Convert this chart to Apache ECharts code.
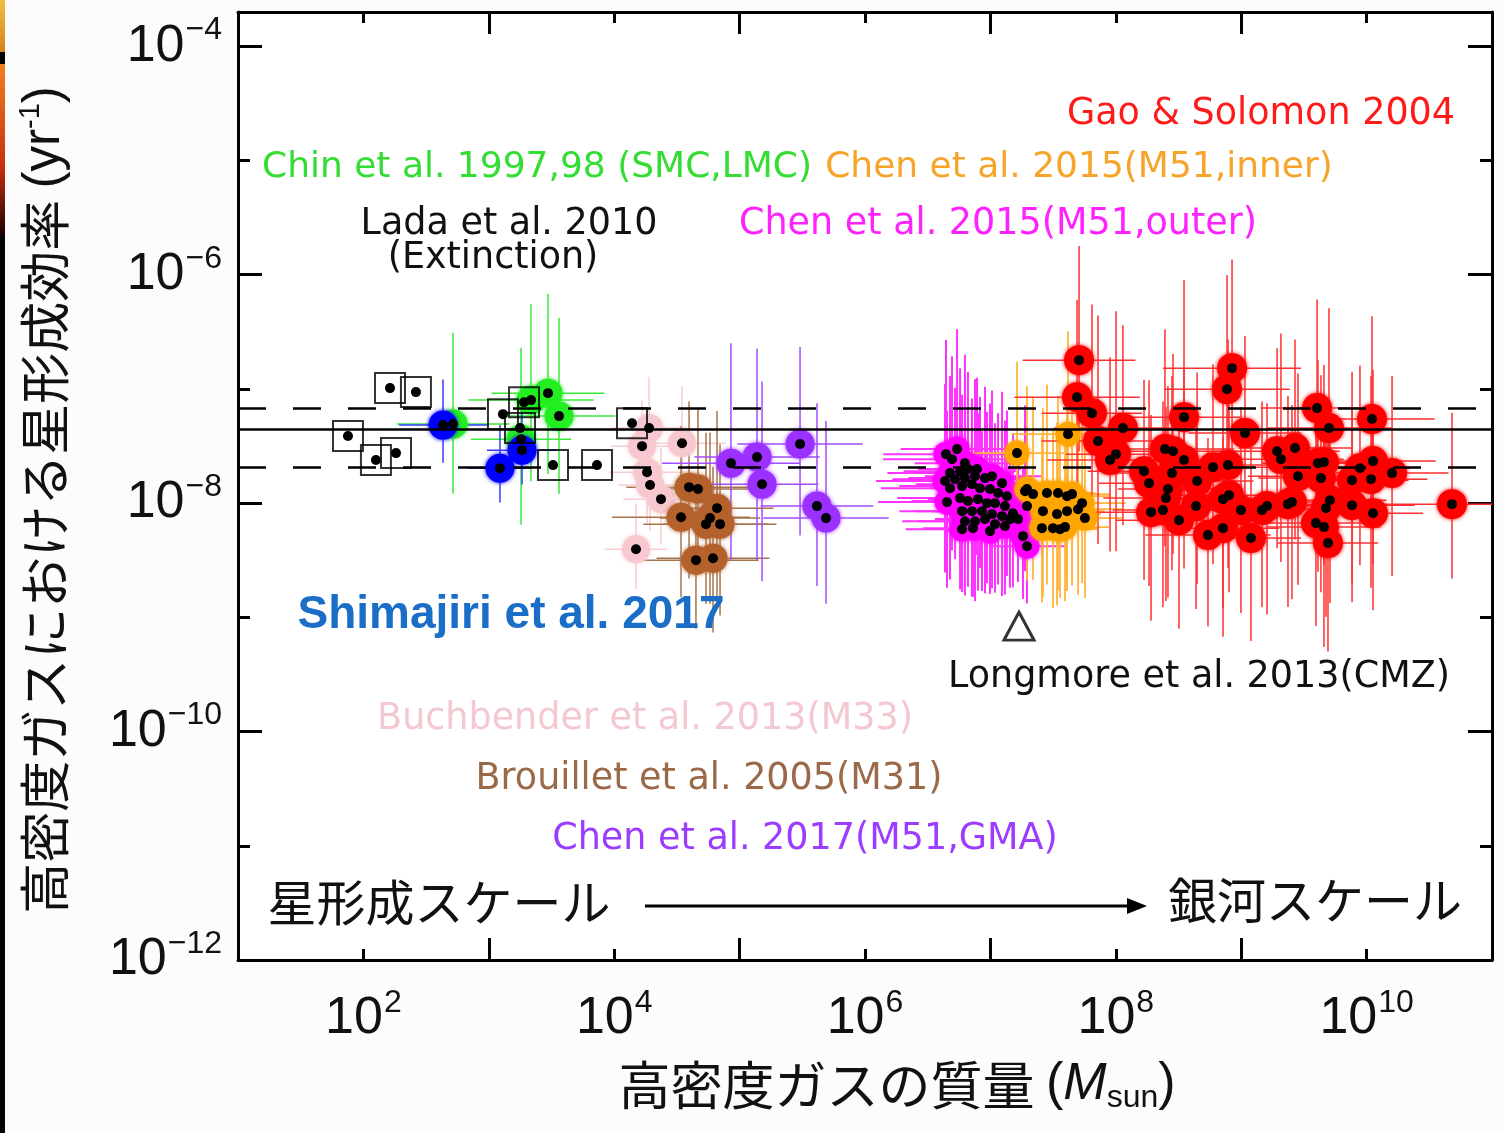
<!DOCTYPE html>
<html><head><meta charset="utf-8">
<script src="https://cdn.jsdelivr.net/npm/echarts@6/dist/echarts.min.js"></script>
<style>html,body{margin:0;padding:0;background:#fcfcfc}#c{width:1504px;height:1133px}</style>
</head><body><div id="c"></div>
<script>
// All values are log10: x = log10(dense gas mass / Msun), y = log10(SFE per yr)
const xTickExponents = [2, 4, 6, 8, 10];
const yTickExponents = [-12, -10, -8, -6, -4];

const sfeMeanLog = -7.352;
const sfeBandLog = [-7.168, -7.694];

// Lada et al. 2010 (open squares)
const ladaPts = [[2.212,-6.993],[2.419,-7.028],[1.877,-7.413],[2.100,-7.623],[2.260,-7.562],[3.113,-7.221],[3.281,-7.116],[3.249,-7.343],[3.512,-7.667],[3.863,-7.667],[4.142,-7.300]];

// Chin et al. 1997,98 (green)
const chinPts = [[2.715,-7.308],[3.257,-7.440],[3.337,-7.098],[3.472,-7.037],[3.560,-7.238]];
const chinErr = [[0.45,0.80,0.61],[0.40,0.80,0.75],[0.50,0.84,0.71],[0.45,0.87,0.71],[0.45,0.86,0.68]];

// Shimajiri et al. 2017 (blue)
const shimaPts = [[2.635,-7.317],[3.089,-7.694],[3.265,-7.536]];
const shimaErr = [[0.35,0.40,0.33],[0.25,0.38,0.30],[0.28,0.35,0.30]];

// Buchbender et al. 2013 (pink)
const buchPts = [[4.278,-7.343],[4.222,-7.501],[4.541,-7.475],[4.262,-7.729],[4.286,-7.842],[4.373,-7.965],[4.174,-8.403]];
const buchErr = [[0.30,0.45,0.40],[0.25,0.40,0.45],[0.35,0.50,0.40],[0.30,0.45,0.45],[0.25,0.40,0.40],[0.30,0.45,0.40],[0.25,0.40,0.35]];

// Brouillet et al. 2005 (brown)
const brouPts = [[4.597,-7.860],[4.668,-7.877],[4.533,-8.123],[4.820,-8.044],[4.764,-8.131],[4.732,-8.184],[4.844,-8.184],[4.652,-8.499],[4.788,-8.482]];
const brouErr = [[0.50,0.75,0.80],[0.45,0.70,0.75],[0.55,0.80,0.70],[0.45,0.85,0.80],[0.40,0.75,0.75],[0.50,0.80,0.70],[0.45,0.70,0.80],[0.50,0.75,0.60],[0.45,0.80,0.65]];

// Chen et al. 2017 (M51, GMA) (purple)
const gmaPts = [[4.931,-7.650],[5.139,-7.597],[5.179,-7.834],[5.482,-7.483],[5.617,-8.026],[5.689,-8.131]];
const gmaErr = [[0.55,1.05,0.85],[0.50,0.95,0.90],[0.45,0.90,0.85],[0.50,0.85,0.80],[0.45,0.90,0.70],[0.50,0.85,0.75]];

// Chen et al. 2015 (M51, outer) (magenta)
const outerPts = [[6.646,-7.571],[6.734,-7.527],[6.694,-7.615],[6.797,-7.650],[6.678,-7.737],[6.758,-7.720],[6.821,-7.702],[6.893,-7.702],[6.638,-7.807],[6.718,-7.790],
[6.797,-7.781],[6.877,-7.764],[6.957,-7.781],[7.013,-7.764],[7.093,-7.825],[6.678,-7.869],[6.774,-7.851],[6.853,-7.834],[6.917,-7.869],[6.997,-7.877],
[7.061,-7.912],[7.132,-7.939],[6.654,-7.991],[6.758,-7.956],[6.821,-7.982],[6.901,-7.965],[6.973,-8.000],[7.037,-8.000],[7.116,-8.026],[7.180,-8.088],
[6.774,-8.070],[6.853,-8.070],[6.933,-8.070],[7.013,-8.096],[7.093,-8.114],[7.156,-8.140],[6.797,-8.158],[6.877,-8.158],[6.957,-8.140],[7.037,-8.184],
[7.116,-8.201],[7.220,-8.140],[6.774,-8.228],[6.861,-8.219],[6.997,-8.245],[7.260,-8.289],[7.292,-8.377],[7.276,-7.895],[7.292,-8.026]];
const outerErr = [[0.50,1.00,0.80],[0.45,1.05,0.75],[0.55,0.90,0.80],[0.40,0.95,0.85],[0.50,0.85,0.75],[0.45,0.90,0.80],[0.40,0.85,0.70],[0.35,0.80,0.75],[0.55,0.85,0.80],[0.50,0.80,0.70],
[0.45,0.90,0.75],[0.40,0.85,0.80],[0.35,0.80,0.75],[0.40,0.75,0.70],[0.35,0.80,0.75],[0.55,0.85,0.80],[0.50,0.80,0.75],[0.45,0.75,0.80],[0.40,0.80,0.70],[0.35,0.75,0.75],
[0.40,0.70,0.80],[0.35,0.75,0.70],[0.55,0.80,0.75],[0.50,0.85,0.80],[0.45,0.80,0.75],[0.40,0.75,0.80],[0.35,0.80,0.70],[0.40,0.70,0.75],[0.35,0.75,0.70],[0.30,0.70,0.65],
[0.50,0.75,0.70],[0.45,0.80,0.75],[0.40,0.70,0.70],[0.35,0.75,0.65],[0.30,0.70,0.70],[0.35,0.65,0.60],[0.50,0.70,0.65],[0.45,0.75,0.70],[0.40,0.70,0.65],[0.35,0.65,0.60],
[0.30,0.70,0.60],[0.30,0.65,0.55],[0.45,0.70,0.55],[0.40,0.65,0.60],[0.35,0.70,0.55],[0.30,0.60,0.55],[0.30,0.55,0.50],[0.30,0.75,0.70],[0.30,0.70,0.60]];

// Chen et al. 2015 (M51, inner) (orange)
const innerPts = [[7.212,-7.562],[7.292,-7.877],[7.340,-7.921],[7.451,-7.912],[7.539,-7.912],[7.611,-7.939],[7.651,-7.921],[7.731,-8.000],[7.419,-8.070],[7.531,-8.096],
[7.611,-8.070],[7.699,-8.053],[7.754,-8.131],[7.411,-8.219],[7.499,-8.219],[7.555,-8.228],[7.595,-8.210],[7.619,-7.396]];
const innerErr = [[0.40,0.80,0.75],[0.35,0.90,0.80],[0.40,0.85,0.75],[0.35,0.95,0.80],[0.30,0.85,0.85],[0.35,0.90,0.75],[0.30,0.80,0.80],[0.35,0.85,0.70],[0.40,0.90,0.75],[0.35,0.80,0.80],
[0.30,0.85,0.70],[0.35,0.80,0.75],[0.30,0.75,0.70],[0.40,0.80,0.65],[0.35,0.85,0.70],[0.30,0.80,0.60],[0.35,0.75,0.65],[0.45,0.90,0.80]];

// Gao & Solomon 2004 (red)
const gaoPts = [[7.707,-6.748],[7.691,-7.072],[7.810,-7.212],[8.057,-7.343],[7.858,-7.457],[8.002,-7.571],[7.954,-7.623],[8.225,-7.720],[8.265,-7.825],[8.392,-7.527],
[8.456,-7.545],[8.544,-7.247],[8.544,-7.623],[8.448,-7.737],[8.648,-7.807],[8.416,-7.877],[8.400,-7.956],[8.281,-8.079],[8.376,-8.061],[8.504,-8.149],
[8.640,-8.026],[8.775,-7.685],[8.895,-7.667],[8.855,-7.965],[8.903,-7.930],[8.855,-8.219],[8.735,-8.280],[8.998,-8.061],[9.078,-8.306],[9.166,-8.061],
[9.206,-8.026],[8.927,-6.818],[8.887,-7.002],[9.030,-7.387],[9.286,-7.545],[9.373,-8.009],[9.405,-7.991],[9.317,-7.615],[9.429,-7.518],[9.453,-7.764],
[9.605,-7.168],[9.700,-7.343],[9.612,-7.650],[9.660,-7.641],[9.636,-7.781],[9.708,-7.974],[9.676,-8.044],[9.596,-8.175],[9.660,-8.210],[9.692,-8.350],
[9.884,-8.018],[9.884,-7.799],[9.947,-7.694],[10.051,-7.632],[10.035,-7.790],[10.051,-8.088],[10.043,-7.264],[10.203,-7.737],[10.681,-8.009]];
const gaoErr = [[0.45,1.00,0.80],[0.50,0.85,0.75],[0.40,0.95,0.80],[0.55,0.90,0.85],[0.45,1.10,0.90],[0.40,1.25,0.85],[0.50,0.90,0.80],[0.45,0.80,0.95],[0.40,0.90,0.90],[0.55,1.05,0.85],
[0.50,0.85,0.90],[0.45,1.20,0.80],[0.40,0.80,0.95],[0.50,0.85,0.85],[0.45,0.95,0.90],[0.40,0.90,0.95],[0.50,0.80,0.90],[0.45,0.85,0.95],[0.40,0.95,0.85],[0.50,0.90,0.95],
[0.45,0.85,0.90],[0.55,0.90,0.85],[0.50,1.10,0.90],[0.45,0.85,0.95],[0.40,0.90,0.85],[0.45,0.80,0.95],[0.50,0.85,0.80],[0.45,0.90,0.90],[0.40,0.85,0.90],[0.50,0.95,0.85],
[0.45,0.90,0.95],[0.55,0.95,0.85],[0.50,1.00,0.80],[0.45,0.85,0.90],[0.50,0.90,0.85],[0.45,0.95,0.90],[0.40,0.85,0.85],[0.50,1.10,0.90],[0.45,0.95,0.80],[0.40,0.90,0.95],
[0.45,0.95,0.85],[0.50,1.05,0.80],[0.45,0.90,0.95],[0.40,0.85,0.90],[0.50,0.90,1.00],[0.45,0.85,0.90],[0.40,0.90,0.95],[0.50,0.85,0.90],[0.45,0.95,1.05],[0.40,0.90,0.95],
[0.50,0.85,0.85],[0.45,0.95,0.90],[0.40,0.90,0.85],[0.50,0.80,0.90],[0.45,0.90,0.95],[0.40,0.85,0.85],[0.50,0.90,0.80],[0.45,0.85,0.90],[0.55,0.80,0.65]];

// Longmore et al. 2013 (CMZ)
const longmorePts = [[7.228,-9.077]];

const chart = echarts.init(document.getElementById('c'));

function errSeries(pts, errs, color, width) {
  return {
    type: 'custom', silent: true, z: 1, clip: true,
    dimensions: ['x','y','ex','eu','ed'],
    encode: {x: 0, y: 1},
    data: pts.map((p, i) => [p[0], p[1], errs[i][0], errs[i][1], errs[i][2]]),
    renderItem: function (params, api) {
      const x = api.value(0), y = api.value(1), ex = api.value(2), eu = api.value(3), ed = api.value(4);
      const l = api.coord([x - ex, y]), r = api.coord([x + ex, y]);
      const t = api.coord([x, y + eu]), b = api.coord([x, y - ed]);
      return {type: 'group', children: [
        {type: 'line', shape: {x1: l[0], y1: l[1], x2: r[0], y2: r[1]}, style: {stroke: color, lineWidth: width}},
        {type: 'line', shape: {x1: t[0], y1: t[1], x2: b[0], y2: b[1]}, style: {stroke: color, lineWidth: width}}
      ]};
    }
  };
}
function circleSeries(pts, color, size) {
  return {type: 'scatter', silent: true, z: 3, symbol: 'circle', symbolSize: size, data: pts,
    itemStyle: {color: color, opacity: 1, shadowBlur: 4, shadowColor: color}};
}
function dotSeries(pts, size) {
  return {type: 'scatter', silent: true, z: 4, symbol: 'circle', symbolSize: size || 10, data: pts,
    itemStyle: {color: '#000', opacity: 1}};
}

const sup = (n) => '{b|10}{s|' + String(n).replace('-', '\u2212') + '}';
const labelRich = {b: {fontSize: 52, fontFamily: 'Liberation Sans', color: '#111'},
                   s: {fontSize: 32, fontFamily: 'Liberation Sans', color: '#111', padding: [0, 0, 32, 1]}};
function xAx(pos, labels) {
  return {type: 'value', position: pos, min: 1, max: 11, interval: 2,
    axisLine: {show: true, onZero: false, lineStyle: {color: '#000', width: 3}},
    axisTick: {show: true, inside: true, length: 22, lineStyle: {color: '#000', width: 3}},
    minorTick: {show: true, splitNumber: 2, length: 11, lineStyle: {color: '#000', width: 3}},
    splitLine: {show: false}, minorSplitLine: {show: false},
    axisLabel: {show: labels, margin: 27, customValues: xTickExponents, hideOverlap: false,
      formatter: function (v) { return sup(Math.round(v)); }, rich: labelRich}
  };
}
function yAx(pos, labels) {
  return {type: 'value', position: pos, min: -12, max: -3.7, interval: 2,
    axisLine: {show: true, onZero: false, lineStyle: {color: '#000', width: 3}},
    axisTick: {show: true, inside: true, length: 24, lineStyle: {color: '#000', width: 3}},
    minorTick: {show: true, splitNumber: 2, length: 12, lineStyle: {color: '#000', width: 3}},
    splitLine: {show: false}, minorSplitLine: {show: false},
    axisLabel: {show: labels, margin: 16, customValues: yTickExponents, hideOverlap: false,
      formatter: function (v) { return sup(Math.round(v)); }, rich: labelRich}
  };
}

const annFont = 'DejaVu Sans';
function ann(text, cx, cy, color, size) {
  return {type: 'text', x: cx, y: cy, z: 50, silent: true,
    style: {text: text, fill: color, fontSize: size, fontFamily: annFont, align: 'center', verticalAlign: 'middle'}};
}

const option = {
  animation: false,
  backgroundColor: '#fcfcfc',
  grid: {left: 238, right: 12, top: 12, bottom: 173, show: true, backgroundColor: '#fff', borderWidth: 0},
  xAxis: [xAx('bottom', true), xAx('top', false)],
  yAxis: [yAx('left', true), yAx('right', false)],
  series: [
    errSeries(buchPts, buchErr, '#f7cdd4', 1.5),
    errSeries(brouPts, brouErr, '#a5744a', 1.5),
    errSeries(gmaPts, gmaErr, '#a24dff', 1.5),
    errSeries(chinPts, chinErr, '#3be83b', 1.5),
    errSeries(shimaPts, shimaErr, '#3a3aff', 1.5),
    errSeries(outerPts, outerErr, '#ff33ff', 2),
    errSeries(innerPts, innerErr, '#ffb53a', 1.8),
    errSeries(gaoPts, gaoErr, '#ff3030', 1.5),
    circleSeries(buchPts, '#f8c8d0', 28),
    circleSeries(brouPts, '#b4612b', 29),
    circleSeries(gmaPts, '#9b30ff', 29),
    circleSeries(chinPts, '#22ee22', 29),
    circleSeries(shimaPts, '#0000ff', 29),
    circleSeries(outerPts, '#ff00ff', 25),
    circleSeries(innerPts, '#ffa500', 25),
    circleSeries(gaoPts, '#ff0000', 30),
    dotSeries(buchPts), dotSeries(brouPts), dotSeries(gmaPts), dotSeries(chinPts), dotSeries(shimaPts),
    dotSeries(outerPts), dotSeries(innerPts), dotSeries(gaoPts),
    {type: 'scatter', silent: true, z: 5, symbol: 'rect', symbolSize: 30, data: ladaPts,
      itemStyle: {color: 'rgba(0,0,0,0)', borderColor: '#000', borderWidth: 2}},
    dotSeries(ladaPts),
    {type: 'scatter', silent: true, z: 5, symbol: 'triangle', symbolSize: [30, 28], data: longmorePts,
      itemStyle: {color: 'rgba(0,0,0,0)', borderColor: '#000', borderWidth: 3}},
    {type: 'scatter', silent: true, z: 10, data: [],
      markLine: {silent: true, symbol: ['none', 'none'], label: {show: false}, animation: false,
        lineStyle: {color: '#000', width: 2.5},
        data: [
          {yAxis: sfeMeanLog, lineStyle: {type: 'solid', color: '#000', width: 2.5}},
          {yAxis: sfeBandLog[0], lineStyle: {type: [28, 27], color: '#000', width: 2.5}},
          {yAxis: sfeBandLog[1], lineStyle: {type: [28, 27], color: '#000', width: 2.5}}
        ]}}
  ],
  graphic: [
    {type: 'rect', shape: {x: 0, y: 0, width: 5, height: 1133}, style: {fill: '#050505'}, silent: true},
    {type: 'rect', shape: {x: 0, y: 0, width: 5, height: 52}, style: {fill: new echarts.graphic.LinearGradient(0,0,0,1,[{offset:0,color:'#f0c040'},{offset:1,color:'#d88020'}])}, silent: true},
    {type: 'rect', shape: {x: 0, y: 64, width: 5, height: 170}, style: {fill: new echarts.graphic.LinearGradient(0,0,0,1,[{offset:0,color:'#f08020'},{offset:0.6,color:'#c83010'},{offset:1,color:'#200000'}])}, silent: true},
    ann('Gao & Solomon 2004', 1261, 115, '#ff1a1a', 36.5),
    ann('Chin et al. 1997,98 (SMC,LMC)', 537, 168, '#33dd33', 36),
    ann('Chen et al. 2015(M51,inner)', 1079, 168, '#f7a52a', 36),
    ann('Lada et al. 2010', 509, 225, '#111', 36.5),
    ann('(Extinction)', 493, 259, '#111', 36.5),
    ann('Chen et al. 2015(M51,outer)', 998, 225, '#ff22ff', 36.5),
    {type: 'text', x: 511, y: 615, z: 50, silent: true, style: {text: 'Shimajiri et al. 2017', fill: '#1a6ec8', fontSize: 46, fontWeight: 'bold', fontFamily: 'Liberation Sans', align: 'center', verticalAlign: 'middle'}},
    ann('Longmore et al. 2013(CMZ)', 1199, 678, '#111', 36.5),
    ann('Buchbender et al. 2013(M33)', 645, 720, '#f4c8d0', 36.5),
    ann('Brouillet et al. 2005(M31)', 709, 780, '#9a6a48', 36.5),
    ann('Chen et al. 2017(M51,GMA)', 805, 840, '#9b3cff', 36.5),
    {type: 'text', x: 439, y: 902, z: 50, silent: true, style: {text: '星形成スケール', fill: '#111', fontSize: 49, fontFamily: 'Noto Sans CJK JP', align: 'center', verticalAlign: 'middle'}},
    {type: 'text', x: 1315, y: 900, z: 50, silent: true, style: {text: '銀河スケール', fill: '#111', fontSize: 49, fontFamily: 'Noto Sans CJK JP', align: 'center', verticalAlign: 'middle'}},
    {type: 'line', z: 50, silent: true, shape: {x1: 645, y1: 906, x2: 1132, y2: 906}, style: {stroke: '#000', lineWidth: 3}},
    {type: 'polygon', z: 50, silent: true, shape: {points: [[1147, 906], [1127, 898], [1127, 914]]}, style: {fill: '#000'}},
    {type: 'text', x: 45, y: 500, rotation: Math.PI / 2, z: 50, silent: true,
      style: {text: '{a|高密度ガスにおける星形成効率 }{b|(yr}{s|-1}{b|)}', align: 'center', verticalAlign: 'middle',
        rich: {a: {fontSize: 51, fontFamily: 'Noto Sans CJK JP', fill: '#111'},
               b: {fontSize: 51, fontFamily: 'Liberation Sans', fill: '#111'},
               s: {fontSize: 29, fontFamily: 'Liberation Sans', fill: '#111', padding: [0, 0, 28, 0]}}}},
    {type: 'text', x: 897, y: 1085, z: 50, silent: true,
      style: {text: '{a|高密度ガスの質量 }{b|(}{m|M}{u|sun}{b|)}', align: 'center', verticalAlign: 'middle',
        rich: {a: {fontSize: 52, fontFamily: 'Noto Sans CJK JP', fill: '#111'},
               b: {fontSize: 52, fontFamily: 'Liberation Sans', fill: '#111'},
               m: {fontSize: 52, fontFamily: 'Liberation Sans', fontStyle: 'italic', fill: '#111'},
               u: {fontSize: 32, fontFamily: 'Liberation Sans', fill: '#111', padding: [26, 0, 0, 0]}}}}
  ]
};
chart.setOption(option);
</script></body></html>
